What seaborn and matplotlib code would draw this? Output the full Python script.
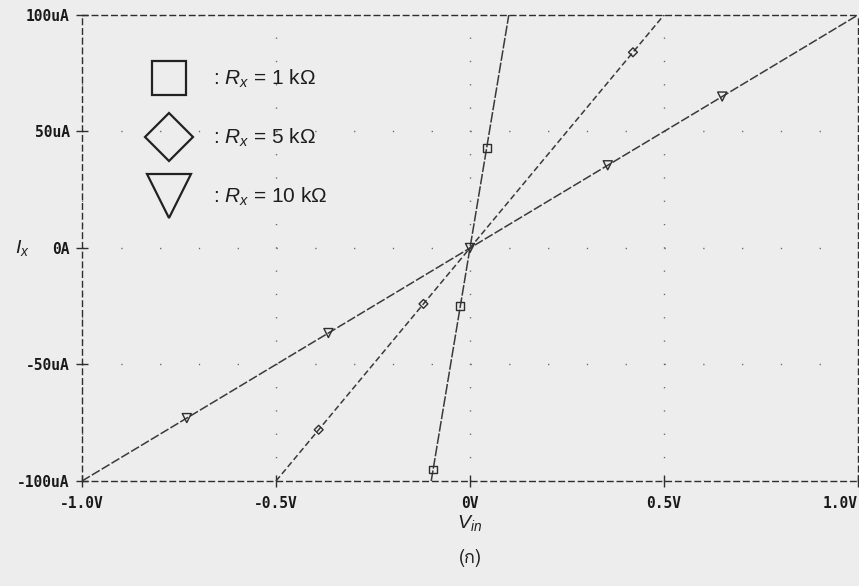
import numpy as np
import pandas as pd
import matplotlib
matplotlib.use("Agg")
import matplotlib.pyplot as plt
import seaborn as sns
from matplotlib.lines import Line2D
from matplotlib import font_manager, ft2font

# ---- data (current in uA, voltage in V) ----
resistors = ["1 kΩ", "5 kΩ", "10 kΩ"]
line_v_1k = [-0.1, 0.0, 0.1]
line_i_1k = [-100, 0, 100]
line_v_5k = [-0.5, 0.0, 0.5]
line_i_5k = [-100, 0, 100]
line_v_10k = [-1.0, 0.0, 1.0]
line_i_10k = [-100, 0, 100]

mark_v_1k = [-0.095, -0.025, 0.043]
mark_i_1k = [-95, -25, 43]
mark_v_5k = [-0.39, -0.12, 0.42]
mark_i_5k = [-78, -24, 84]
mark_v_10k = [-0.73, -0.365, 0.0, 0.355, 0.65]
mark_i_10k = [-73, -36.5, 0, 35.5, 65]

x_ticks = [-1.0, -0.5, 0.0, 0.5, 1.0]
x_tick_labels = ["-1.0V", "-0.5V", "0V", "0.5V", "1.0V"]
y_ticks = [-100, -50, 0, 50, 100]
y_tick_labels = ["-100uA", "-50uA", "0A", "50uA", "100uA"]


def find_thai_family():
    for f in font_manager.fontManager.ttflist:
        try:
            cmap = ft2font.FT2Font(f.fname).get_charmap()
        except Exception:
            continue
        if 0x0E01 in cmap:
            return f.name
    return None


sns.set_theme(style="white")
plt.rcParams["font.family"] = ["Liberation Sans", "DejaVu Sans"]
plt.rcParams["mathtext.fontset"] = "custom"
plt.rcParams["mathtext.rm"] = "Liberation Sans"
plt.rcParams["mathtext.it"] = "Liberation Sans:italic"

lines_df = pd.concat([
    pd.DataFrame({"V": line_v_1k, "I": line_i_1k, "R": resistors[0]}),
    pd.DataFrame({"V": line_v_5k, "I": line_i_5k, "R": resistors[1]}),
    pd.DataFrame({"V": line_v_10k, "I": line_i_10k, "R": resistors[2]}),
])
marks_df = pd.concat([
    pd.DataFrame({"V": mark_v_1k, "I": mark_i_1k, "R": resistors[0]}),
    pd.DataFrame({"V": mark_v_5k, "I": mark_i_5k, "R": resistors[1]}),
    pd.DataFrame({"V": mark_v_10k, "I": mark_i_10k, "R": resistors[2]}),
])

bg = "#ededed"
ink = "#2e2e2e"
fig = plt.figure(figsize=(8.59, 5.86), dpi=100, facecolor=bg)
ax = fig.add_axes([0.0955, 0.1792, 0.9033, 0.7952])
ax.set_facecolor(bg)

palette = {r: "#3a3a3a" for r in resistors}
sns.lineplot(data=lines_df, x="V", y="I", hue="R", palette=palette,
             style="R", dashes={resistors[0]: (7, 1.2), resistors[1]: (4, 2),
                                resistors[2]: (6, 1.5)},
             linewidth=1.1, legend=False, sort=False, estimator=None, ax=ax)

marker_map = {resistors[0]: "s", resistors[1]: "D", resistors[2]: "v"}
size_map = {resistors[0]: 5.5, resistors[1]: 4.5, resistors[2]: 6.5}
for r in resistors:
    sub = marks_df[marks_df["R"] == r]
    sns.scatterplot(data=sub, x="V", y="I", marker=marker_map[r],
                    s=size_map[r] ** 2, facecolors="none", edgecolor=ink,
                    linewidth=1.0, legend=False, ax=ax, zorder=4)

ax.set_xlim(-1.0, 1.0)
ax.set_ylim(-100, 100)
ax.set_xticks(x_ticks)
ax.set_xticklabels(x_tick_labels)
ax.set_yticks(y_ticks)
ax.set_yticklabels(y_tick_labels)
for lab in ax.get_xticklabels() + ax.get_yticklabels():
    lab.set_fontfamily("DejaVu Sans Mono")
    lab.set_fontweight("bold")
    lab.set_fontsize(10.5)
    lab.set_color("#1a1a1a")
ax.get_xticklabels()[-1].set_horizontalalignment("right")
ax.tick_params(direction="inout", length=8, width=1.0, color=ink,
               pad=5, bottom=True, left=True)
ax.tick_params(axis="x", pad=7)

# dashed frame
for sp in ax.spines.values():
    sp.set_visible(True)
    sp.set_color(ink)
    sp.set_linewidth(1.0)
    sp.set_linestyle((0, (4, 3)))

# sparse dotted grid: vertical lines dotted every 10 uA, horizontal every 0.1 V
fig.canvas.draw()
bbox = ax.get_window_extent()
h_pt = bbox.height * 72 / fig.dpi
w_pt = bbox.width * 72 / fig.dpi
step_v = h_pt / 20.0
step_h = w_pt / 20.0
ax.grid(axis="x", color="#666666", linewidth=1.0,
        linestyle=(0, (0.9, step_v - 0.9)))
ax.grid(axis="y", color="#666666", linewidth=1.0,
        linestyle=(0, (0.9, step_h - 0.9)))
ax.set_axisbelow(True)

# legend with large hollow symbols
handles = [
    Line2D([], [], linestyle="none", marker="s", markersize=24,
           markerfacecolor="none", markeredgecolor="#222222", markeredgewidth=1.6),
    Line2D([], [], linestyle="none", marker="D", markersize=24,
           markerfacecolor="none", markeredgecolor="#222222", markeredgewidth=1.6),
    Line2D([], [], linestyle="none", marker="v", markersize=31,
           markerfacecolor="none", markeredgecolor="#222222", markeredgewidth=1.6),
]
labels = [": $R_x$ = " + r for r in resistors]
leg = ax.legend(handles, labels, loc="upper left", bbox_to_anchor=(0.0747, 0.904),
                frameon=False, fontsize=15, labelspacing=1.76,
                handletextpad=1.1, handlelength=2.0, borderaxespad=0)
for t in leg.get_texts():
    t.set_color("#1e1e1e")

ax.set_xlabel("")
ax.set_ylabel("")
fig.text(0.026, 0.577, "$I_x$", fontsize=14, color="#1e1e1e",
         ha="center", va="center")
fig.text(0.547, 0.107, "$V_{in}$", fontsize=14, color="#1e1e1e",
         ha="center", va="center")
thai = find_thai_family()
cap_family = [thai, "DejaVu Sans"] if thai else ["DejaVu Sans"]
fig.text(0.547, 0.048, "(ก)", fontsize=13, color="#1e1e1e",
         ha="center", va="center", family=cap_family)

fig.savefig("out.png", dpi=100, facecolor=bg)
